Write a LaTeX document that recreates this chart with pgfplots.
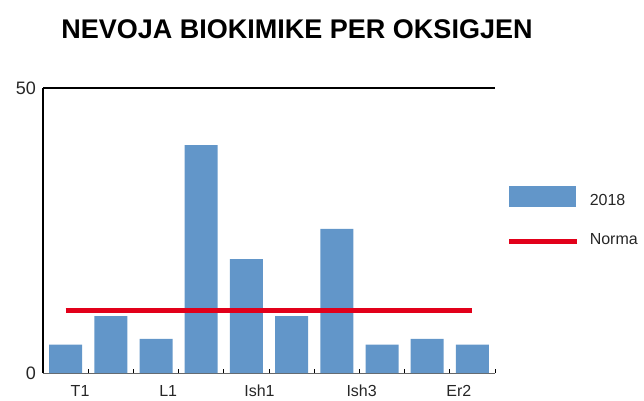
\documentclass[border=0pt]{standalone}
\usepackage{fontspec}
\setmainfont{Liberation Sans}
\usepackage{pgfplots}
\pgfplotsset{compat=1.18}
\definecolor{barblue}{RGB}{98,150,201}
\definecolor{normred}{RGB}{226,0,26}
\begin{document}
\begin{tikzpicture}
\path[use as bounding box] (0pt,0pt) rectangle (644pt,400pt);
\node[anchor=base, font=\fontsize{27}{30}\selectfont\bfseries] at (297pt,362pt) {NEVOJA BIOKIMIKE PER OKSIGJEN};
\begin{axis}[
 at={(43pt,27pt)}, anchor=south west,
 scale only axis, width=452pt, height=285pt,
 xmin=-0.5, xmax=9.5, ymin=0, ymax=50,
 axis x line*=bottom, axis y line*=left,
 x axis line style={-, draw=black!60, line width=0.6pt},
 y axis line style={-, draw=black, line width=1.6pt},
 ytick={0,50},
 xtick={0.32,2.27,4.29,6.55,8.7},
 xticklabels={T1,L1,Ish1,Ish3,Er2},
 minor xtick={-0.5,0.5,...,9.5},
 major tick length=0pt, minor tick length=4pt, tick align=inside,
 minor tick style={black, line width=0.8pt},
 extra y ticks={50}, extra y tick labels={}, extra y tick style={grid=major},
 major grid style={black, line width=1.6pt},
 /pgf/number format/assume math mode=true,
 yticklabel style={font=\fontsize{18}{20}\selectfont, inner sep=0pt, xshift=-7pt, text=black!85},
 xticklabel style={font=\fontsize{16}{18}\selectfont, inner sep=0pt, anchor=north, yshift=-12pt, text=black!85},
 legend style={at={(1.026,0.656)}, anchor=north west, draw=none, fill=none,
   inner sep=0pt, outer sep=0pt, font=\fontsize{16}{18}\selectfont,
   column sep=10pt, row sep=25.75pt, nodes={inner sep=0pt}, text=black!85},
 legend cell align=left,
]
\addplot[ybar, bar width=33pt, fill=barblue, draw=none,
  legend image code/.code={\fill[barblue] (0pt,-6pt) rectangle (67pt,15pt);}]
  coordinates {(0,5) (1,10) (2,6) (3,40) (4,20) (5,10) (6,25.3) (7,5) (8,6) (9,5)};
\addlegendentry{2018}
\addplot[normred, line width=5pt, no marks,
  legend image code/.code={\draw[normred, line width=5pt] (0pt,-2.5pt) -- (68pt,-2.5pt);}]
  coordinates {(0,11) (9,11)};
\addlegendentry{Norma}
\end{axis}
\end{tikzpicture}
\end{document}
